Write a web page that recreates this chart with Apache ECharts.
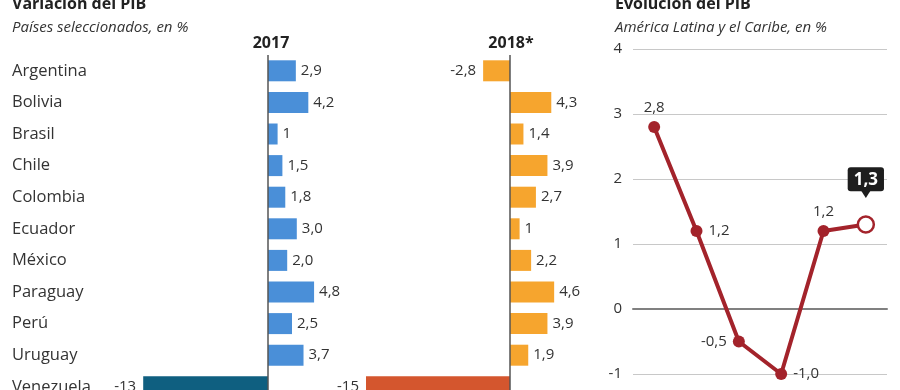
<!DOCTYPE html>
<html><head><meta charset="utf-8">
<script src="https://cdn.jsdelivr.net/npm/echarts@6/dist/echarts.min.js"></script>
<style>html,body{margin:0;padding:0;background:#fff;overflow:hidden;height:390px}#c{width:900px;height:430px}</style>
</head><body><div id="c"></div>
<script>
const countries = ['Argentina','Bolivia','Brasil','Chile','Colombia','Ecuador','México','Paraguay','Perú','Uruguay','Venezuela'];
const values2017 = [2.9, 4.2, 1, 1.5, 1.8, 3.0, 2.0, 4.8, 2.5, 3.7, -13];
const labels2017 = ['2,9','4,2','1','1,5','1,8','3,0','2,0','4,8','2,5','3,7','-13'];
const values2018 = [-2.8, 4.3, 1.4, 3.9, 2.7, 1, 2.2, 4.6, 3.9, 1.9, -15];
const labels2018 = ['-2,8','4,3','1,4','3,9','2,7','1','2,2','4,6','3,9','1,9','-15'];
const years = ['2013','2014','2015','2016','2017','2018'];
const pibLatam = [2.8, 1.2, -0.5, -1.0, 1.2, 1.3];
const pibLabels = ['2,8','1,2','-0,5','-1,0','1,2','1,3'];
const pibLabelPos = ['top','right','left','right','top','top'];
const yTicks = ['-1','0','1','2','3','4'];

const FONT = '"Open Sans"';
const TXT = '#333';
const RED = '#a3232b';
const scale = 9.6; // px per unit
function barData(vals, labels, color, hiColor) {
  return vals.map((v, i) => ({
    value: v,
    itemStyle: { color: i === vals.length - 1 ? hiColor : color },
    label: { position: v < 0 ? 'left' : 'right', formatter: labels[i], distance: v < 0 ? 7 : 5 }
  }));
}
const chart = echarts.init(document.getElementById('c'));
const rowTop = 55, rowH = 347.6;
const zero1 = 268, zero2 = 510;
const min1 = -13, max1 = 5, min2 = -15, max2 = 5;
const tTitle = { fontFamily: FONT, fontSize: 16, fontWeight: 'bold', color: '#222' };
const tSub = { fontFamily: FONT, fontSize: 15, fontStyle: 'italic', fontWeight: 'normal', color: '#333' };
chart.setOption({
  animation: false,
  textStyle: { fontFamily: FONT },
  title: [
    { text: 'Variación del PIB', left: 12, top: -4, padding: 0, textStyle: tTitle },
    { text: 'Países seleccionados, en %', left: 12, top: 20, padding: 0, textStyle: tSub },
    { text: '2017', left: 271, textAlign: 'center', top: 35, padding: 0, textStyle: tTitle },
    { text: '2018*', left: 511, textAlign: 'center', top: 35, padding: 0, textStyle: tTitle },
    { text: 'Evolución del PIB', left: 615, top: -4, padding: 0, textStyle: tTitle },
    { text: 'América Latina y el Caribe, en %', left: 615, top: 20, padding: 0, textStyle: tSub }
  ],
  grid: [
    { left: zero1 + min1 * scale, width: (max1 - min1) * scale, top: rowTop, height: rowH },
    { left: zero2 + min2 * scale, width: (max2 - min2) * scale, top: rowTop, height: rowH },
    { left: 633, right: 13, top: 49, bottom: 430 - 374 }
  ],
  xAxis: [
    { type: 'value', gridIndex: 0, min: min1, max: max1, show: false },
    { type: 'value', gridIndex: 1, min: min2, max: max2, show: false },
    { type: 'category', gridIndex: 2, data: years, boundaryGap: true,
      axisLine: { onZero: true, lineStyle: { color: '#808080', width: 2 } },
      axisTick: { show: false }, axisLabel: { show: false } }
  ],
  yAxis: [
    { type: 'category', gridIndex: 0, data: countries, inverse: true,
      axisLine: { show: false }, axisTick: { show: false },
      axisLabel: { align: 'left', margin: zero1 + min1 * scale - 12, fontFamily: FONT, fontSize: 16.5, color: TXT } },
    { type: 'category', gridIndex: 1, data: countries, inverse: true, show: false },
    { type: 'value', gridIndex: 2, min: -1, max: 4, interval: 1,
      axisLine: { show: false }, axisTick: { show: false },
      axisLabel: { margin: 11, fontFamily: FONT, fontSize: 15, color: TXT, formatter: (v) => yTicks[Math.round(v) + 1] },
      splitLine: { lineStyle: { color: '#c8c8c8', width: 1 } } }
  ],
  series: [
    { type: 'bar', xAxisIndex: 0, yAxisIndex: 0, barWidth: 21,
      data: barData(values2017, labels2017, '#4a8fd8', '#0f5f80'),
      label: { show: true, fontFamily: FONT, fontSize: 15, color: TXT },
      markLine: { silent: true, symbol: 'none', label: { show: false },
        lineStyle: { color: '#555', width: 1.5, type: 'solid' }, data: [{ xAxis: 0 }] } },
    { type: 'bar', xAxisIndex: 1, yAxisIndex: 1, barWidth: 21,
      data: barData(values2018, labels2018, '#f6a52e', '#d4562e'),
      label: { show: true, fontFamily: FONT, fontSize: 15, color: TXT },
      markLine: { silent: true, symbol: 'none', label: { show: false },
        lineStyle: { color: '#555', width: 1.5, type: 'solid' }, data: [{ xAxis: 0 }] } },
    { type: 'line', xAxisIndex: 2, yAxisIndex: 2, z: 5,
      lineStyle: { color: RED, width: 4 },
      symbol: 'circle', symbolSize: 12,
      itemStyle: { color: RED },
      data: pibLatam.map((v, i) => {
        const last = i === pibLatam.length - 1;
        const d = { value: v, label: { show: true, position: pibLabelPos[i], formatter: pibLabels[i], distance: 6,
          fontFamily: FONT, fontSize: 15, color: TXT } };
        if (last) {
          d.symbolSize = 16;
          d.itemStyle = { color: '#fff', borderColor: RED, borderWidth: 2.5 };
          d.label = { show: true, position: 'top', formatter: pibLabels[i], distance: 24,
            fontFamily: FONT, fontSize: 17, fontWeight: 'bold', color: '#fff',
            backgroundColor: '#1e1e1e', borderRadius: 3, padding: [4, 6, 3, 6] };
        }
        return d;
      }),
      markPoint: { silent: true, label: { show: false },
        data: [{ coord: [years[5], pibLatam[5]], symbol: 'triangle', symbolRotate: 180,
          symbolSize: [9, 7], symbolOffset: [0, -30], itemStyle: { color: '#1e1e1e' } }] }
    }
  ]
});
</script></body></html>
